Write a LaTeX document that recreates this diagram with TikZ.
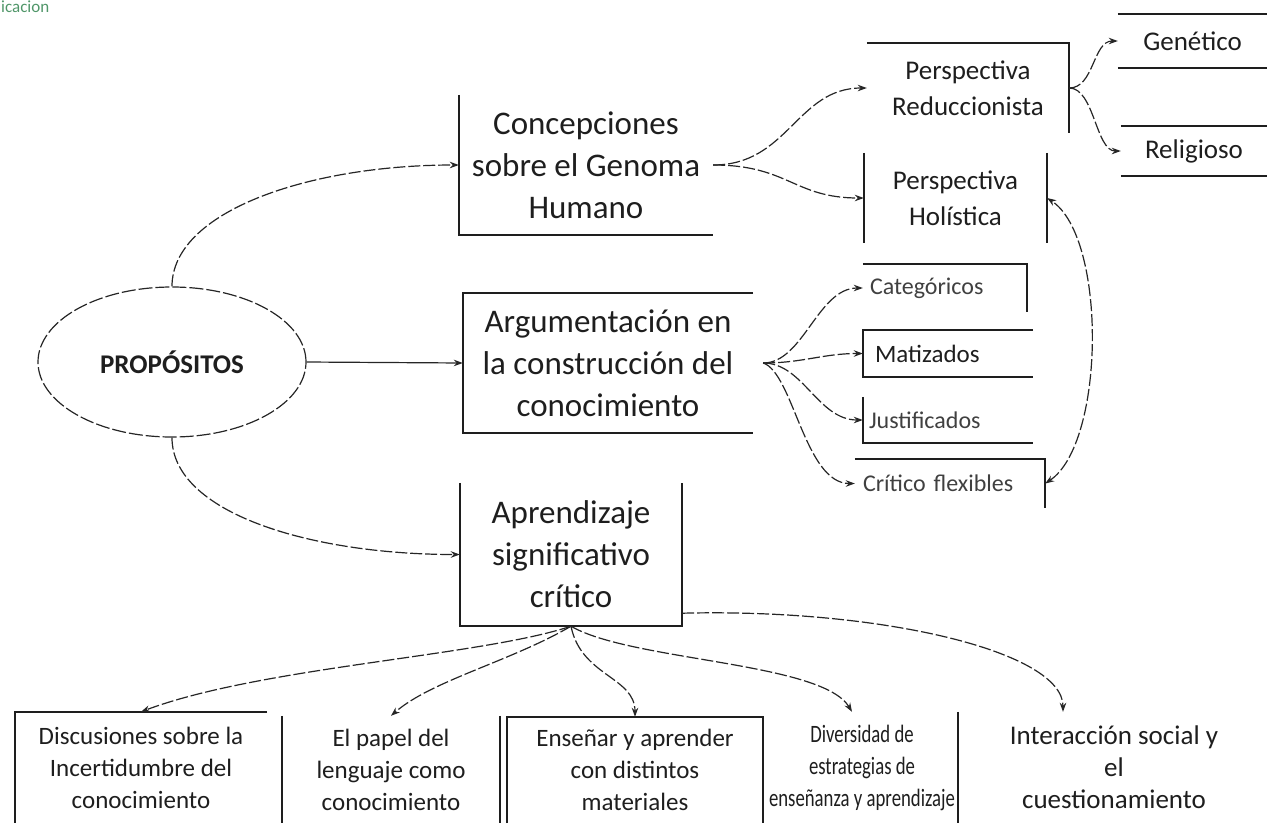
\documentclass[tikz,border=0pt]{standalone}
\usepackage{fontspec}
\setmainfont{Carlito}
\usetikzlibrary{arrows.meta,shapes.geometric,calc}
\definecolor{hdr}{RGB}{80,150,105}
\definecolor{ink}{RGB}{30,30,30}
\begin{document}
\begin{tikzpicture}[x=1pt,y=-1pt,
  every node/.style={text=ink, align=center, inner sep=0pt},
  box/.style 2 args={minimum width=#1pt, minimum height=#2pt},
  bigtxt/.style={font=\fontsize{33}{42}\selectfont},
  midtxt/.style={font=\fontsize{27}{36}\selectfont},
  smalltxt/.style={font=\fontsize{24}{30}\selectfont, text=black!75},
  lowtxt/.style={font=\fontsize{25}{32}\selectfont},
  border/.style={draw=ink, line width=1.6pt},
  conn/.style={draw=black!85, line width=1.2pt, dash pattern=on 12pt off 3pt, -{Stealth[length=9pt,width=6.5pt]}},
]
\useasboundingbox (0,0) rectangle (1267,823);
\clip (0,0) rectangle (1267,823);

% header fragment
\node[font=\fontsize{17}{17}\selectfont, text=hdr, anchor=base west] (hdr) at (1,12) {icacion};

% central nodes
\node[ellipse, draw=black!85, line width=1.2pt, dash pattern=on 14pt off 3pt,
      minimum width=268pt, minimum height=150pt,
      font=\bfseries\fontsize{27}{30}\selectfont] (prop) at (172,362) {PROPÓSITOS};

\node[box={254}{140}, bigtxt] (conc) at (586,165) {Concepciones\\sobre el Genoma\\Humano};
\node[box={290}{140}, bigtxt] (arg) at (608,363) {Argumentación en\\la construcción del\\conocimiento};
\node[box={222}{143}, bigtxt] (apr) at (571,554.5) {Aprendizaje\\significativo\\crítico};

% right upper
\node[box={202}{90}, midtxt] (red) at (968,88) {Perspectiva\\Reduccionista};
\node[box={183}{90}, midtxt] (hol) at (955.5,198) {Perspectiva\\Holística};
\node[box={149}{54}, midtxt] (gen) at (1192.5,41) {Genético};
\node[box={146}{50}, midtxt] (rel) at (1194,151) {Religioso};

% argument types
\node[smalltxt, minimum height=48pt, inner xsep=7pt, text width=150pt, align=left] (cat) at (945,288) {Categóricos};
\node[lowtxt, minimum height=47pt, inner xsep=12pt, text width=146pt, align=left] (mat) at (948,353.5) {Matizados};
\node[smalltxt, minimum height=46pt, inner xsep=6pt, text width=158pt, align=left] (jus) at (948,420) {Justificados};
\node[smalltxt, minimum height=49pt, inner xsep=8pt, text width=174pt, align=left] (cri) at (950,483.5) {Crítico flexibles};

% bottom row
\node[box={252}{111}, lowtxt] (dis) at (141,767.5) {Discusiones sobre la\\Incertidumbre del\\conocimiento};
\node[box={218}{107}, lowtxt] (pap) at (391,769.5) {El papel del\\lenguaje como\\conocimiento};
\node[box={256}{106}, lowtxt] (ens) at (635,770) {Enseñar y aprender\\con distintos\\materiales};
\node[box={195}{111}, font=\fontsize{25}{32}\selectfont\addfontfeatures{FakeStretch=0.75}] (div) at (862,767.5) {Diversidad de\\estrategias de\\enseñanza y aprendizaje};
\node[box={309}{111}, font=\fontsize{27}{32}\selectfont] (int) at (1114,767.5) {Interacción social y\\el\\cuestionamiento};

% partial borders
\draw[border] (conc.north west) -- (conc.south west) -- (conc.south east);
\draw[border] (arg.north east) -- (arg.north west) -- (arg.south west) -- (arg.south east);
\draw[border] (apr.north west) -- (apr.south west) -- (apr.south east) -- (apr.north east);
\draw[border] (red.north west) -- (red.north east) -- (red.south east);
\draw[border] (hol.north west) -- (hol.south west) (hol.north east) -- (hol.south east);
\draw[border] (gen.north west) -- (gen.north east) (gen.south west) -- (gen.south east);
\draw[border] (rel.north west) -- (rel.north east) (rel.south west) -- (rel.south east);
\draw[border] (cat.north west) -- (cat.north east) -- (cat.south east);
\draw[border] (mat.north east) -- (mat.north west) -- (mat.south west) -- (mat.south east);
\draw[border] (jus.north west) -- (jus.south west) -- (jus.south east);
\draw[border] (cri.north west) -- (cri.north east) -- (cri.south east);
\draw[border] (dis.north east) -- (dis.north west) -- (dis.south west);
\draw[border] (pap.north west) -- (pap.south west) (pap.north east) -- (pap.south east);
\draw[border] (ens.south west) -- (ens.north west) -- (ens.north east) -- (ens.south east);
\draw[border] ([xshift=-1.5pt]div.north east) -- ([xshift=-1.5pt]div.south east);

% connectors from PROPOSITOS
\draw[conn] (prop.north) .. controls +(0,-75) and +(-150,0) .. (conc.west);
\draw[conn, solid] (prop.east) -- (arg.west);
\draw[conn] (prop.south) .. controls +(0,75) and +(-150,0) .. (apr.west);

% concepciones
\draw[conn] (conc.east) .. controls +(75,0) and +(-70,0) .. (red.west);
\draw[conn] (conc.east) .. controls +(75,0) and +(-70,0) .. (hol.west);
\draw[conn] (red.east) .. controls +(25,0) and +(-25,0) .. (gen.west);
\draw[conn] (red.east) .. controls +(25,0) and +(-25,0) .. (rel.west);

% argumentacion
\coordinate (argout) at ($(arg.east)+(10,0)$);
\draw[conn] (argout) .. controls +(40,0) and +(-45,0) .. (cat.west);
\draw[conn] (argout) .. controls +(40,0) and +(-40,0) .. (mat.west);
\draw[conn] (argout) .. controls +(40,0) and +(-45,0) .. (jus.west);
\draw[conn] (argout) .. controls +(30,10) and +(-50,0) .. (cri.west);
\draw[conn, {Stealth[length=9pt,width=6.5pt]}-{Stealth[length=9pt,width=6.5pt]}]
  (cri.east) .. controls +(60,-40) and +(60,40) .. (hol.east);

% aprendizaje fan
\draw[conn] (apr.south) .. controls +(-90,30) and +(120,-45) .. (dis.north);
\draw[conn] (apr.south) .. controls +(-60,35) and +(40,-35) .. (pap.north);
\draw[conn] (apr.south) .. controls +(10,50) and +(0,-40) .. (ens.north);
\draw[conn] (apr.south) .. controls +(60,35) and +(-30,-50) .. ([xshift=-10pt]div.north);
\coordinate (aprout) at ($(apr.south east)+(0,-13)$);
\coordinate (intin) at ($(int.north)+(-51,0)$);
\draw[conn] (aprout) .. controls +(200,-5) and +(0,-60) .. (intin);
\end{tikzpicture}
\end{document}
